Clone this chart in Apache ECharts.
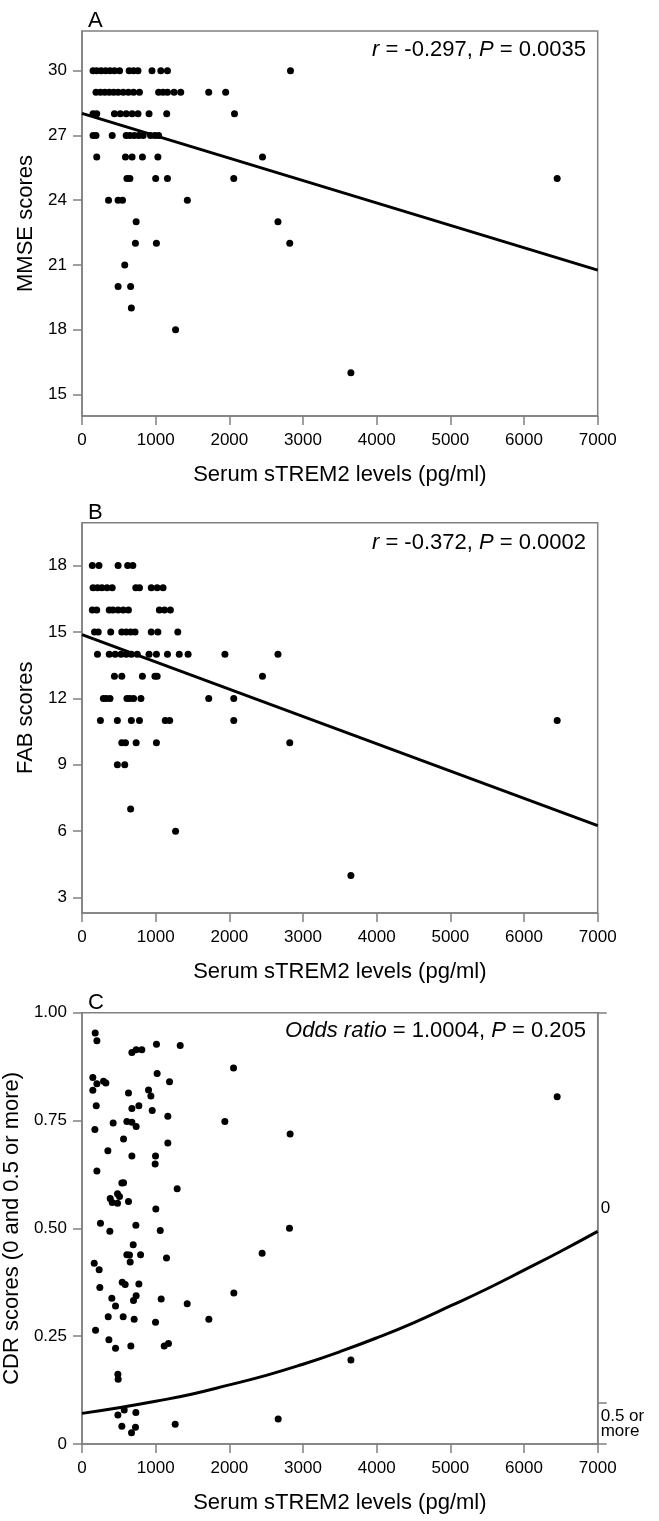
<!DOCTYPE html>
<html><head><meta charset="utf-8">
<script src="https://cdn.jsdelivr.net/npm/echarts@6/dist/echarts.min.js"></script>
<style>html,body{margin:0;padding:0;background:#fff}#c{width:659px;height:1521px}</style>
</head><body><div id="c"></div>
<script>
// ---------- data ----------
const xTicks = [0, 1000, 2000, 3000, 4000, 5000, 6000, 7000];
const mmseTicks = [15, 18, 21, 24, 27, 30];
const fabTicks = [3, 6, 9, 12, 15, 18];
const cdrTicks = [0, 0.25, 0.5, 0.75, 1];
const xTitle = 'Serum sTREM2 levels (pg/ml)';

// Panel A: [sTREM2, MMSE]
const mmsePoints = [
  [150,30],[200,30],[260,30],[320,30],[380,30],[440,30],[510,30],[640,30],[700,30],[760,30],[950,30],[1070,30],[1160,30],[2830,30],
  [190,29],[250,29],[310,29],[370,29],[430,29],[490,29],[560,29],[630,29],[700,29],[780,29],[1040,29],[1100,29],[1160,29],[1250,29],[1340,29],[1720,29],[1950,29],
  [150,28],[200,28],[440,28],[520,28],[600,28],[680,28],[760,28],[910,28],[1150,28],[2070,28],
  [150,27],[190,27],[410,27],[600,27],[650,27],[710,27],[770,27],[830,27],[930,27],[990,27],[1040,27],
  [200,26],[590,26],[680,26],[820,26],[1030,26],[2450,26],
  [610,25],[650,25],[1000,25],[1160,25],[2060,25],[6450,25],
  [360,24],[490,24],[550,24],[1430,24],
  [735,23],[2660,23],
  [725,22],[1010,22],[2820,22],
  [580,21],
  [490,20],[660,20],
  [670,19],
  [1270,18],
  [3650,16]
];
const mmseFitX = [0, 7000];
const mmseFitY = [28.02, 20.76];

// Panel B: [sTREM2, FAB]
const fabPoints = [
  [140,18],[230,18],[490,18],[620,18],[690,18],
  [150,17],[210,17],[270,17],[340,17],[410,17],[730,17],[780,17],[940,17],[1020,17],[1100,17],
  [140,16],[200,16],[370,16],[420,16],[490,16],[560,16],[630,16],[1050,16],[1120,16],[1200,16],
  [170,15],[220,15],[390,15],[540,15],[600,15],[660,15],[720,15],[940,15],[1030,15],[1300,15],
  [210,14],[370,14],[450,14],[530,14],[600,14],[670,14],[750,14],[910,14],[1010,14],[1160,14],[1320,14],[1440,14],[1940,14],[2660,14],
  [440,13],[540,13],[820,13],[990,13],[1020,13],[2450,13],
  [290,12],[330,12],[380,12],[610,12],[650,12],[700,12],[800,12],[1720,12],[2060,12],
  [250,11],[480,11],[670,11],[780,11],[1130,11],[1190,11],[2060,11],[6450,11],
  [540,10],[590,10],[735,10],[1010,10],[2820,10],
  [480,9],[580,9],
  [660,7],
  [1270,6],
  [3650,4]
];
const fabFitX = [0, 7000];
const fabFitY = [14.88, 6.25];

// Panel C: [sTREM2, CDR plotting position]
const cdrPoints = [
  [179,0.953],[202,0.935],[677,0.908],[735,0.914],[812,0.914],[1011,0.927],[1333,0.924],[2057,0.872],
  [147,0.850],[202,0.835],[292,0.841],[324,0.837],[147,0.820],[1020,0.859],[1188,0.840],[903,0.821],
  [935,0.807],[631,0.814],[193,0.784],[772,0.784],[677,0.778],[953,0.773],[1165,0.760],[423,0.744],
  [609,0.748],[677,0.746],[735,0.736],[1939,0.748],[2825,0.719],[175,0.729],[564,0.707],[1165,0.698],
  [351,0.680],[677,0.668],[998,0.668],[993,0.649],[202,0.633],[1292,0.592],[541,0.605],[564,0.606],
  [482,0.580],[509,0.574],[383,0.569],[410,0.560],[482,0.558],[631,0.562],[1002,0.545],[251,0.512],
  [378,0.493],[731,0.507],[1062,0.495],[2816,0.500],[695,0.462],[609,0.439],[645,0.438],[795,0.439],
  [654,0.422],[1147,0.431],[2445,0.442],[166,0.419],[233,0.404],[242,0.363],[546,0.375],[586,0.370],
  [772,0.371],[735,0.344],[699,0.333],[405,0.338],[455,0.320],[1075,0.336],[1428,0.325],[2061,0.350],
  [356,0.295],[559,0.295],[708,0.289],[998,0.282],[1722,0.289],[184,0.264],[365,0.242],[455,0.222],
  [663,0.227],[1116,0.227],[1174,0.233],[487,0.162],[491,0.150],[487,0.067],[573,0.079],[731,0.073],
  [541,0.041],[726,0.039],[672,0.026],[1265,0.046],[2663,0.058],[3650,0.195],[6450,0.805]
];
const cdrFitX = [0, 500, 1000, 1500, 2000, 2500, 3000, 3500, 4000, 4500, 5000, 5500, 6000, 6500, 7000];
const cdrFitY = [0.071, 0.084, 0.099, 0.116, 0.137, 0.159, 0.185, 0.214, 0.246, 0.281, 0.320, 0.360, 0.403, 0.447, 0.493];
const cdrLevels = ['0', '0.5 or\nmore'];
const cdrCumProp = [1, 0.095, 0];   // right-axis category boundaries (top to bottom)

const statTexts = ['{i|r} = -0.297, {i|P} = 0.0035', '{i|r} = -0.372, {i|P} = 0.0002', '{i|Odds ratio} = 1.0004, {i|P} = 0.205'];
const panelLetters = ['A', 'B', 'C'];
const yTitles = ['MMSE scores', 'FAB scores', 'CDR scores (0 and 0.5 or more)'];

// ---------- chart ----------
const FONT = '"Liberation Sans", Arial, Helvetica, sans-serif';
const GREY = '#808080';
const grids = [
  {left: 82, top: 31, width: 515.7, height: 385},
  {left: 82, top: 522.7, width: 515.7, height: 390.3},
  {left: 82, top: 1012.7, width: 515.7, height: 431.3}
].map(g => Object.assign(g, {show: true, borderColor: GREY, borderWidth: 1.5, backgroundColor: 'transparent', containLabel: false, outerBoundsMode: 'none'}));

const lineStyleAxis = {color: GREY, width: 1.5};
function xAxis(i) {
  return {
    type: 'value', gridIndex: i, min: 0, max: 7000, interval: 1000,
    axisLine: {show: true, onZero: false, lineStyle: lineStyleAxis},
    axisTick: {show: true, inside: false, length: 9, lineStyle: lineStyleAxis},
    axisLabel: {show: true, color: '#000', fontSize: 17, fontFamily: FONT, margin: 16,
      customValues: xTicks, formatter: v => String(v)},
    splitLine: {show: false},
    name: xTitle, nameLocation: 'middle', nameGap: 48,
    nameTextStyle: {color: '#000', fontSize: 22, fontFamily: FONT}
  };
}
const yNameGaps = [40, 40, 47];
function yAxisLeft(i, min, max, ticks, fmt) {
  return {
    type: 'value', gridIndex: i, min: min, max: max, position: 'left',
    axisLine: {show: true, onZero: false, lineStyle: lineStyleAxis},
    axisTick: {show: true, inside: false, length: 9, lineStyle: lineStyleAxis, customValues: ticks},
    axisLabel: {show: true, color: '#000', fontSize: 17, fontFamily: FONT, margin: 15,
      customValues: ticks, formatter: fmt || (v => String(v))},
    splitLine: {show: false},
    name: yTitles[i], nameLocation: 'middle', nameGap: yNameGaps[i], nameRotate: 90,
    nameTextStyle: {color: '#000', fontSize: 22, fontFamily: FONT}
  };
}
const labelPos = [(cdrCumProp[0] + cdrCumProp[1]) / 2, (cdrCumProp[1] + cdrCumProp[2]) / 2];

const titles = [];
const letterTops = [10, 502, 992];
const statTops = [39, 532, 1020];
for (let i = 0; i < 3; i++) {
  titles.push({text: panelLetters[i], left: 88, top: letterTops[i], padding: 0,
    textStyle: {fontSize: 22, fontWeight: 'normal', color: '#000', fontFamily: FONT}});
  titles.push({text: statTexts[i], right: 73, top: statTops[i], padding: 0,
    textStyle: {fontSize: 22, fontWeight: 'normal', color: '#000', fontFamily: FONT,
      rich: {i: {fontStyle: 'italic', fontSize: 22, color: '#000', fontFamily: FONT}}}});
}

const pair = (xs, ys) => xs.map((x, k) => [x, ys[k]]);
const scatter = (data, xi, yi) => ({type: 'scatter', data: data, xAxisIndex: xi, yAxisIndex: yi,
  symbol: 'circle', symbolSize: 7, itemStyle: {color: '#000', opacity: 1}, silent: true});
const fit = (data, xi, yi, smooth) => ({type: 'line', data: data, xAxisIndex: xi, yAxisIndex: yi,
  showSymbol: false, smooth: smooth, lineStyle: {color: '#000', width: 3}, silent: true, z: 3});

const option = {
  animation: false,
  backgroundColor: '#fff',
  textStyle: {fontFamily: FONT},
  title: titles,
  grid: grids,
  xAxis: [xAxis(0), xAxis(1), xAxis(2)],
  yAxis: [
    yAxisLeft(0, 14, 31.84, mmseTicks),
    yAxisLeft(1, 2.3, 19.94, fabTicks),
    yAxisLeft(2, 0, 1, cdrTicks, v => v === 0 ? '0' : v.toFixed(2)),
    {
      type: 'value', gridIndex: 2, min: 0, max: 1, position: 'right',
      axisLine: {show: true, onZero: false, lineStyle: lineStyleAxis},
      axisTick: {show: true, inside: false, length: 9, lineStyle: lineStyleAxis, customValues: cdrCumProp},
      axisLabel: {show: true, color: '#000', fontSize: 17, lineHeight: 15, fontFamily: FONT, margin: 3,
        customValues: labelPos,
        formatter: v => cdrLevels[Math.abs(v - labelPos[0]) < Math.abs(v - labelPos[1]) ? 0 : 1]},
      splitLine: {show: false}
    }
  ],
  series: [
    scatter(mmsePoints, 0, 0), fit(pair(mmseFitX, mmseFitY), 0, 0, false),
    scatter(fabPoints, 1, 1), fit(pair(fabFitX, fabFitY), 1, 1, false),
    scatter(cdrPoints, 2, 2), fit(pair(cdrFitX, cdrFitY), 2, 2, true)
  ]
};
const chart = echarts.init(document.getElementById('c'), null, {renderer: 'canvas'});
chart.setOption(option);
</script>
</body></html>
